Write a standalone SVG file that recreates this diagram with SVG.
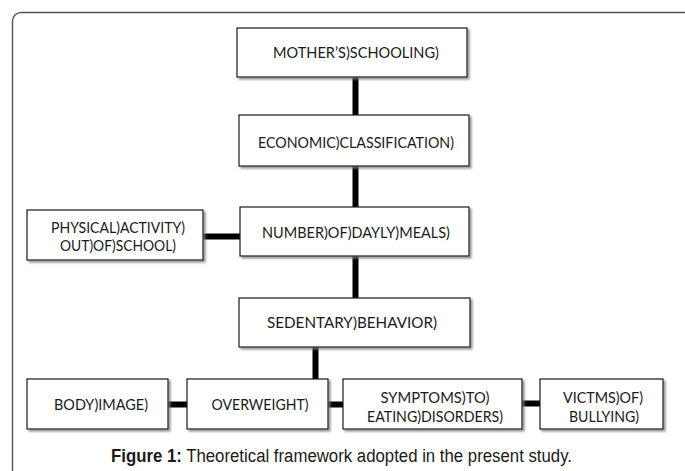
<svg xmlns="http://www.w3.org/2000/svg" width="685" height="471" viewBox="0 0 685 471">
<style>
.box{fill:#fff;stroke:#1a1a1a;stroke-width:1.2;filter:url(#sh)}
.t{font-family:Lato,"Open Sans","Liberation Sans",sans-serif;font-size:15px;fill:#1a1a1a;text-anchor:middle}
.c{stroke:#000;stroke-width:6;fill:none}
.cap{font-family:"Liberation Sans",Arial,sans-serif;font-size:18px;fill:#1a1a1a;text-anchor:middle}
</style>
<defs>
<filter id="sh" x="-10%" y="-20%" width="130%" height="150%">
<feDropShadow dx="2" dy="2" stdDeviation="1.2" flood-color="#777" flood-opacity="0.8"/>
</filter>
</defs>
<rect width="685" height="471" fill="#fff"/>
<path d="M12.5,471 V21 A8.5,8.5 0 0 1 21,12.5 H685" fill="none" stroke="#555" stroke-width="1.4"/>
<g id="connectors">
<line class="c" x1="355.5" y1="77" x2="355.5" y2="115"/>
<line class="c" x1="355.5" y1="166" x2="355.5" y2="207"/>
<line class="c" x1="355.5" y1="256" x2="355.5" y2="298"/>
<line class="c" x1="203" y1="236.5" x2="240" y2="236.5"/>
<line class="c" x1="315.5" y1="347" x2="315.5" y2="379"/>
<line class="c" x1="168" y1="404.5" x2="187" y2="404.5"/>
<line class="c" x1="328" y1="404.5" x2="343" y2="404.5"/>
<line class="c" x1="522" y1="403.5" x2="540" y2="403.5"/>
</g>
<g id="mother"><rect class="box" x="237" y="28" width="230" height="49"/><text class="t" x="356" y="58" textLength="166" lengthAdjust="spacingAndGlyphs">MOTHER’S)SCHOOLING)</text></g>
<g id="economic"><rect class="box" x="239" y="115" width="230" height="51"/><text class="t" x="356" y="148" textLength="196" lengthAdjust="spacingAndGlyphs">ECONOMIC)CLASSIFICATION)</text></g>
<g id="meals"><rect class="box" x="240" y="207" width="229" height="49"/><text class="t" x="356" y="238" textLength="188" lengthAdjust="spacingAndGlyphs">NUMBER)OF)DAYLY)MEALS)</text></g>
<g id="physical"><rect class="box" x="27" y="210" width="176" height="50"/><text class="t" x="118" y="233" textLength="134" lengthAdjust="spacingAndGlyphs">PHYSICAL)ACTIVITY)</text><text class="t" x="118" y="250.5" textLength="116" lengthAdjust="spacingAndGlyphs">OUT)OF)SCHOOL)</text></g>
<g id="sedentary"><rect class="box" x="239" y="298" width="231" height="49"/><text class="t" x="352" y="328" textLength="170" lengthAdjust="spacingAndGlyphs">SEDENTARY)BEHAVIOR)</text></g>
<g id="body"><rect class="box" x="27" y="379" width="141" height="50"/><text class="t" x="101" y="410" textLength="94" lengthAdjust="spacingAndGlyphs">BODY)IMAGE)</text></g>
<g id="overweight"><rect class="box" x="187" y="379" width="141" height="50"/><text class="t" x="260" y="410" textLength="97" lengthAdjust="spacingAndGlyphs">OVERWEIGHT)</text></g>
<g id="symptoms"><rect class="box" x="343" y="379" width="179" height="50"/><text class="t" x="435" y="403" textLength="109" lengthAdjust="spacingAndGlyphs">SYMPTOMS)TO)</text><text class="t" x="435" y="422" textLength="136" lengthAdjust="spacingAndGlyphs">EATING)DISORDERS)</text></g>
<g id="bullying"><rect class="box" x="540" y="379" width="123" height="50"/><text class="t" x="603" y="403" textLength="80" lengthAdjust="spacingAndGlyphs">VICTMS)OF)</text><text class="t" x="604" y="422" textLength="70" lengthAdjust="spacingAndGlyphs">BULLYING)</text></g>
<text class="cap" x="341.5" y="462" textLength="461" lengthAdjust="spacingAndGlyphs"><tspan font-weight="bold">Figure 1:</tspan> Theoretical framework adopted in the present study.</text>
</svg>
